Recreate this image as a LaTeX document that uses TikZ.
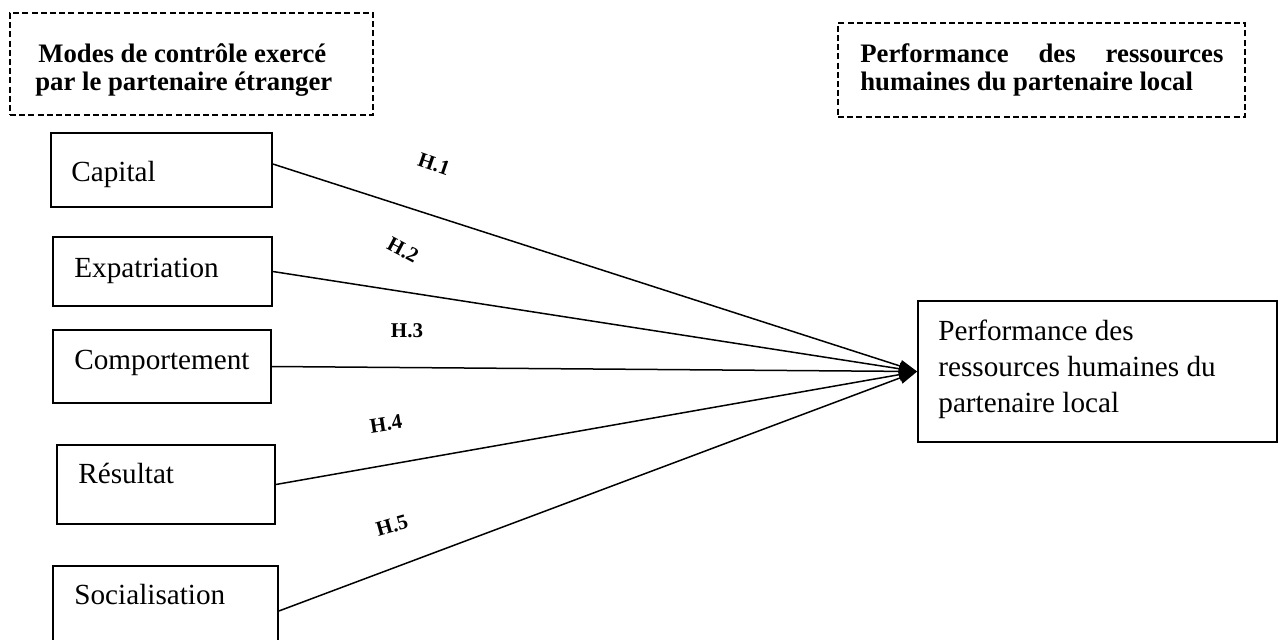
\documentclass[tikz,border=0pt]{standalone}
\usepackage{fontspec}
\setmainfont{Liberation Serif}
\usetikzlibrary{arrows.meta,fit}

\begin{document}
\begin{tikzpicture}[x=0.5pt,y=-0.5pt,
  box/.style={draw, line width=0.85pt, inner sep=0pt},
  dashbox/.style={draw, dash pattern=on 3pt off 1.6pt, line width=0.9pt, inner sep=0pt},
  headtxt/.style={anchor=base west, inner sep=0pt, font=\fontsize{13.35pt}{14.4pt}\selectfont\bfseries},
  bodytxt/.style={anchor=base west, inner sep=0pt, font=\fontsize{14.6pt}{18pt}\selectfont},
  hyp/.style={inner sep=0pt, font=\fontsize{10.5pt}{12pt}\selectfont\bfseries},
  link/.style={line width=0.75pt, -{Triangle[length=9pt,width=6pt]}}
]
\useasboundingbox (0,0) rectangle (1282,639);
\clip (0,0) rectangle (1282,639);

% column headings
\node[dashbox, fit={(10,13)(373,115)}] (hleft) {};
\node[headtxt] (hlefttxt) at (35,62)
  {\begin{tabular}[t]{@{}l@{}}\hspace{1.5pt}Modes de contrôle exercé\\par le partenaire étranger\end{tabular}};
\node[dashbox, fit={(838,23)(1245,117)}] (hright) {};
\node[headtxt] (hrighttxt) at (860,62)
  {\begin{tabular}[t]{@{}l@{}}\makebox[181.5pt][s]{Performance des ressources}\\humaines du partenaire local\end{tabular}};

% control modes
\node[box, fit={(51,133)(272,207)}] (cap) {};
\node[bodytxt] (captxt) at (71,181) {Capital};
\node[box, fit={(53,237)(272,306)}] (exp) {};
\node[bodytxt] (exptxt) at (74,277) {Expatriation};
\node[box, fit={(53,330)(271,403)}] (comp) {};
\node[bodytxt] (comptxt) at (74,369) {Comportement};
\node[box, fit={(57,445)(275,524)}] (res) {};
\node[bodytxt] (restxt) at (78,483) {Résultat};
\node[box, fit={(53,566)(278,656)}] (soc) {};
\node[bodytxt] (soctxt) at (74,604) {Socialisation};

% outcome
\node[box, fit={(918,301)(1277,442)}] (perf) {};
\node[bodytxt] (perftxt) at (938,340)
  {\begin{tabular}[t]{@{}l@{}}Performance des\\ressources humaines du\\partenaire local\end{tabular}};

% hypotheses
\draw[link] ([yshift=3pt]cap.east) -- (perf.west);
\draw[link] (exp.east) -- (perf.west);
\draw[link] (comp.east) -- (perf.west);
\draw[link] (res.east) -- (perf.west);
\draw[link] (soc.east) -- (perf.west);

\node[hyp, rotate=-19] (h1) at (434,164) {H.1};
\node[hyp, rotate=-28] (h2) at (403,250) {H.2};
\node[hyp] (h3) at (407,331) {H.3};
\node[hyp, rotate=9] (h4) at (386,424) {H.4};
\node[hyp, rotate=16] (h5) at (392,526) {H.5};
\end{tikzpicture}
\end{document}
